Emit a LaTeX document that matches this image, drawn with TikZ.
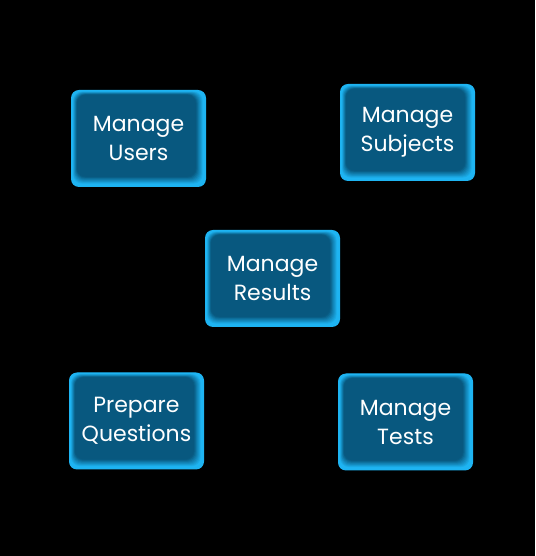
\documentclass[tikz,border=0pt]{standalone}
\usepackage{fontspec}
\setmainfont{Poppins}
\begin{document}
\begin{tikzpicture}[x=1pt,y=1pt,
  btn/.style={minimum width=135pt,minimum height=97pt,rounded corners=8pt,
    fill=edgec,text=white,align=center,inner sep=0pt,
    font=\fontsize{22}{29}\selectfont,
    path picture={
      \foreach \i in {1,...,12}{
        \pgfmathsetmacro{\pc}{min(100,max(0,(\i-3)*12))}
        \fill[innc!\pc!edgec,rounded corners=9pt]
          ([xshift=\i*0.5pt,yshift=-\i*0.4pt]path picture bounding box.north west)
          rectangle ([xshift=-\i*0.85pt,yshift=\i*0.85pt]path picture bounding box.south east);
      }
    }}]
\definecolor{edgec}{HTML}{1EB4F2}
\definecolor{innc}{HTML}{08587F}
\fill[black] (0,0) rectangle (535,556);
\useasboundingbox (0,0) rectangle (535,556);
\node[btn] (users) at (138.5,417.5) {Manage\\Users};
\node[btn] (subjects) at (407.5,423.5) {Manage\\Subjects};
\node[btn] (results) at (272.5,277.5) {Manage\\Results};
\node[btn] (questions) at (136.5,135) {Prepare\\Questions};
\node[btn] (tests) at (405.5,134) {Manage\\Tests};
\end{tikzpicture}
\end{document}
